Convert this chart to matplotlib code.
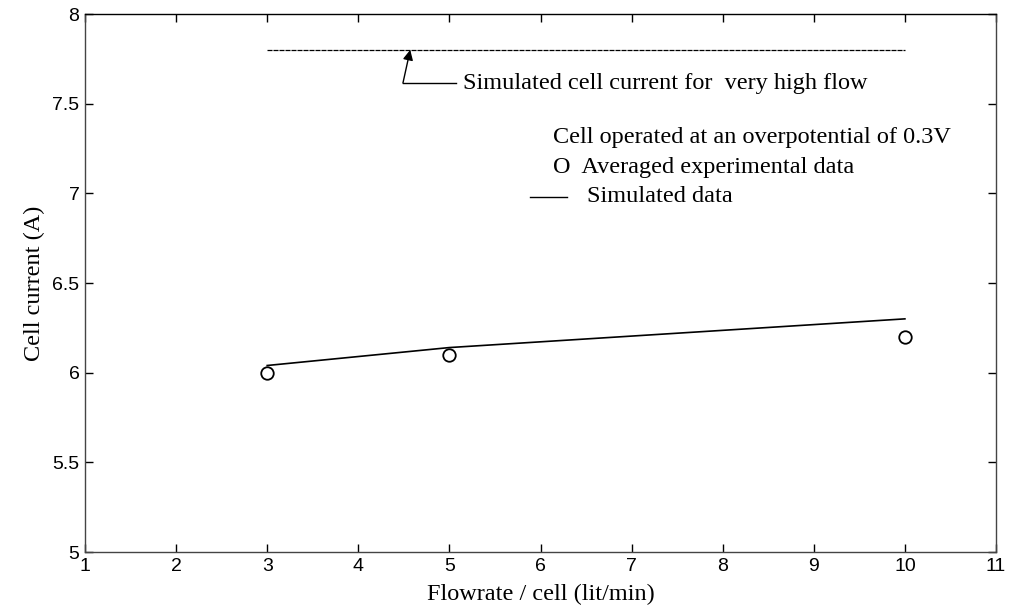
import matplotlib
matplotlib.use("Agg")
import matplotlib.pyplot as plt

# Data
exp_flow = [3, 5, 10]
exp_current = [6.0, 6.1, 6.2]
sim_flow = [3, 5, 10]
sim_current = [6.04, 6.14, 6.30]
high_flow_x = [3, 10]
high_flow_current = [7.8, 7.8]
xticks = list(range(1, 12))
yticks = [5, 5.5, 6, 6.5, 7, 7.5, 8]
ytick_labels = ["5", "5.5", "6", "6.5", "7", "7.5", "8"]

serif = "Liberation Serif"
sans = "Liberation Sans"

fig = plt.figure(figsize=(10.10, 6.07), dpi=100)
ax = fig.add_axes([85/1010, 55/607, 911/1010, 538/607])

ax.plot(sim_flow, sim_current, color="black", lw=1.2)
ax.plot(exp_flow, exp_current, linestyle="none", marker="o", ms=9,
        mfc="none", mec="black", mew=1.3)
ax.plot(high_flow_x, high_flow_current, color="black", lw=0.9,
        linestyle=(0, (4, 0.8)))

ax.set_xlim(1, 11)
ax.set_ylim(5, 8)
ax.set_xticks(xticks)
ax.set_yticks(yticks)
ax.set_yticklabels(ytick_labels)
ax.tick_params(direction="in", top=True, right=True, length=6, width=1,
               labelsize=14, pad=4)
for lab in ax.get_xticklabels() + ax.get_yticklabels():
    lab.set_fontfamily(sans)
for s in ax.spines.values():
    s.set_linewidth(1.0)
for s in ["left", "bottom", "right"]:
    ax.spines[s].set_color("#444444")

ax.set_xlabel("Flowrate / cell (lit/min)", fontfamily=serif, fontsize=17.5, labelpad=7)
ax.set_ylabel("Cell current (A)", fontfamily=serif, fontsize=17.5, labelpad=5)

# Annotation for high flow line
ax.annotate("", xy=(4.57, 7.8), xytext=(4.49, 7.615),
            arrowprops=dict(arrowstyle="-|>", color="black", lw=1.0,
                            mutation_scale=15, shrinkA=0, shrinkB=0))
ax.plot([4.49, 5.07], [7.615, 7.615], color="black", lw=1.0)
ax.text(5.15, 7.615, "Simulated cell current for  very high flow",
        fontfamily=serif, fontsize=17.5, va="center", ha="left")

# Legend-like texts
ax.text(6.14, 7.31, "Cell operated at an overpotential of 0.3V",
        fontfamily=serif, fontsize=17.5, va="center", ha="left")
ax.text(6.14, 7.145, "O  Averaged experimental data",
        fontfamily=serif, fontsize=17.5, va="center", ha="left")
ax.plot([5.89, 6.29], [6.98, 6.98], color="black", lw=1.0)
ax.text(6.51, 6.98, "Simulated data",
        fontfamily=serif, fontsize=17.5, va="center", ha="left")

fig.savefig("out.png", dpi=100, facecolor="white")
